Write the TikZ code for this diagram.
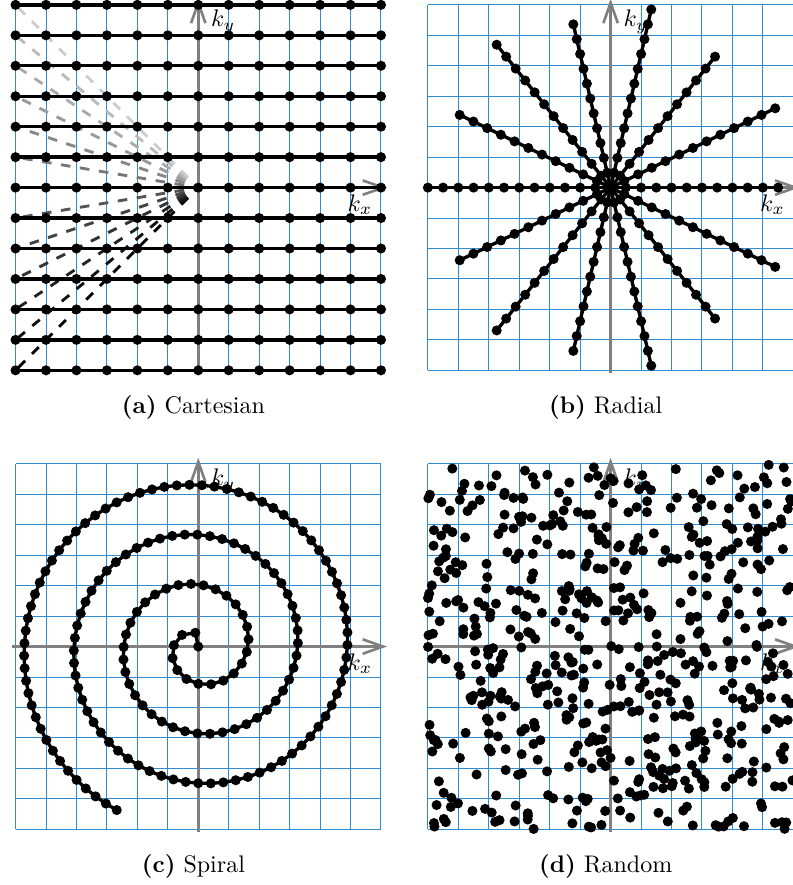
\documentclass[tikz,border=0pt]{standalone}
\usepackage{amsmath}
\usepackage{tikz}
\usetikzlibrary{arrows.meta}
\definecolor{KGridBlue}{RGB}{45,140,212}
\definecolor{KAxisGray}{RGB}{128,128,128}
\definecolor{KInk}{RGB}{0,0,0}

% grid, axes and axis labels of one k-space panel
\newcommand{\kspacegrid}{%
  \draw[kgrid] (-6,-6) grid (6,6);
  \draw[kaxis] (-6.1,0) -- (6.2,0);
  \draw[kaxis] (0,-6.1) -- (0,6.2);
  \node (kx) at (5.31,-0.56) {$k_x$};
  \node (ky) at (0.82,5.45) {$k_y$};}

\begin{document}
\begin{tikzpicture}[x=0.446cm,y=0.446cm,
  kgrid/.style={draw=KGridBlue,line width=0.4pt,step=1},
  kaxis/.style={draw=KAxisGray,line width=1.1pt,-{Straight Barb[length=8.5pt,width=6pt]}},
  traj/.style={draw=KInk,line width=1.4pt},
  kdot/.style={fill=KInk},
  flyback/.style={line width=1.2pt,dash pattern=on 4pt off 4pt,dash phase=2pt},
  subcap/.style={anchor=base}]
  \useasboundingbox (-6.51,-22.9) rectangle (19.5,6.16);

  % (a) Cartesian
  \begin{scope}
    \kspacegrid
    \foreach \j in {-6,...,6}{
      \pgfmathsetmacro\shade{100-(\j+6)*80/12}
      \draw[flyback,draw=black!\shade] (0,0) -- (-6,\j);}
    \foreach \j in {-6,...,6}{
      \draw[traj] (-6,\j) -- (6,\j);
      \foreach \i in {-6,...,6}
        \fill[kdot] (\i,\j) circle[radius=2.1pt];}
    \node[subcap] (capa) at (-0.16,-7.43) {\textbf{(a)} Cartesian};
  \end{scope}

  % (b) Radial
  \begin{scope}[shift={(13.54,0)}]
    \kspacegrid
    \foreach \k in {0,...,6}{
      \draw[traj] (\k*360/7:-6) -- (\k*360/7:5.5);
      \foreach \s in {-6,-5.5,...,5.5}
        \fill[kdot] (\k*360/7:\s) circle[radius=2.1pt];}
    \node[subcap] (capb) at (-0.16,-7.43) {\textbf{(b)} Radial};
  \end{scope}

  % (c) Spiral
  \begin{scope}[shift={(0,-15.07)}]
    \kspacegrid
    \draw[traj] plot[domain=0:168,samples=169,variable=\n]
      ({6*sqrt(\n/168)*cos(1323.5*sqrt(\n/168))},{6*sqrt(\n/168)*sin(1323.5*sqrt(\n/168))});
    \foreach \n in {0,...,168}
      \fill[kdot] ({6*sqrt(\n/168)*cos(1323.5*sqrt(\n/168))},{6*sqrt(\n/168)*sin(1323.5*sqrt(\n/168))}) circle[radius=2.1pt];
    \node[subcap] (capc) at (-0.16,-7.43) {\textbf{(c)} Spiral};
  \end{scope}

  % (d) Random
  \begin{scope}[shift={(13.54,-15.07)}]
    \kspacegrid
    \pgfmathsetseed{4711}
    \foreach \i in {1,...,576}{
      \pgfmathsetmacro\rx{6*rand}
      \pgfmathsetmacro\ry{6*rand}
      \fill[kdot] (\rx,\ry) circle[radius=2.1pt];}
    \node[subcap] (capd) at (-0.16,-7.43) {\textbf{(d)} Random};
  \end{scope}
\end{tikzpicture}
\end{document}
